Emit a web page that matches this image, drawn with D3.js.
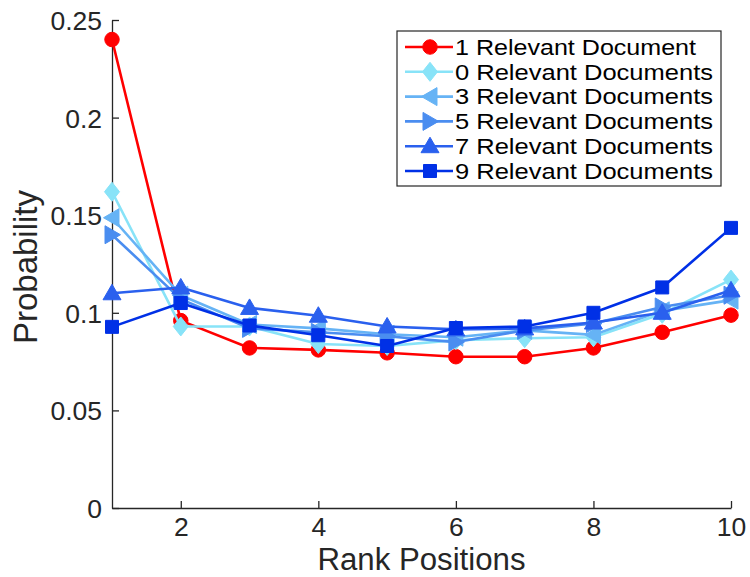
<!DOCTYPE html>
<html>
<head>
<meta charset="utf-8">
<script src="https://cdn.jsdelivr.net/npm/d3@7"></script>
<style>
  html, body { margin: 0; padding: 0; background: #fff; }
  svg { display: block; font-family: "Liberation Sans", Arial, Helvetica, sans-serif; }
</style>
</head>
<body>
<svg id="chart" width="750" height="577"></svg>
<script>
// Rank positions on the x axis
const ranks = [1, 2, 3, 4, 5, 6, 7, 8, 9, 10];

// Probability per rank position, one array per number of relevant documents
const rel1 = [0.240, 0.096, 0.082, 0.081, 0.0795, 0.0775, 0.0775, 0.082, 0.090, 0.0988];
const rel0 = [0.162, 0.093, 0.093, 0.0840, 0.0830, 0.0860, 0.0870, 0.0875, 0.0995, 0.117];
const rel3 = [0.1487, 0.109, 0.094, 0.092, 0.089, 0.0875, 0.091, 0.0887, 0.101, 0.1065];
const rel5 = [0.140, 0.107, 0.092, 0.090, 0.088, 0.0850, 0.091, 0.0945, 0.103, 0.109];
const rel7 = [0.110, 0.113, 0.1025, 0.0985, 0.0930, 0.0915, 0.092, 0.0950, 0.1000, 0.1115];
const rel9 = [0.0928, 0.105, 0.0935, 0.0885, 0.0830, 0.0922, 0.093, 0.1000, 0.1130, 0.1435];

const seriesNames = [
  "1 Relevant Document",
  "0 Relevant Documents",
  "3 Relevant Documents",
  "5 Relevant Documents",
  "7 Relevant Documents",
  "9 Relevant Documents"
];

const yTicks = [0, 0.05, 0.1, 0.15, 0.2, 0.25];
const xTicks = [2, 4, 6, 8, 10];

const series = [
  { name: seriesNames[0], values: rel1, color: "#ff0000", marker: "circle" },
  { name: seriesNames[1], values: rel0, color: "#88e3f8", marker: "diamond" },
  { name: seriesNames[2], values: rel3, color: "#66b3f5", marker: "left" },
  { name: seriesNames[3], values: rel5, color: "#4a8df0", marker: "right" },
  { name: seriesNames[4], values: rel7, color: "#2a60ee", marker: "up" },
  { name: seriesNames[5], values: rel9, color: "#0030e6", marker: "square" }
];

const svg = d3.select("#chart");
const margin = { left: 112, right: 19, top: 20, bottom: 69 };
const W = 750, H = 577;

const x = d3.scaleLinear().domain([1, 10]).range([margin.left, W - margin.right]);
const y = d3.scaleLinear().domain([0, 0.25]).range([H - margin.bottom, margin.top]);

// Marker shapes, drawn centred on (0,0)
function markerPath(kind) {
  switch (kind) {
    case "circle": return d3.symbol(d3.symbolCircle, 165)();
    case "diamond": return "M0,-9.5L7.5,0L0,9.5L-7.5,0Z";
    case "left": return "M-8.5,0L7,-9L7,9Z";
    case "right": return "M8.5,0L-7,-9L-7,9Z";
    case "up": return "M0,-9L9,6.5L-9,6.5Z";
    case "square": return "M-6.5,-6.5L6.5,-6.5L6.5,6.5L-6.5,6.5Z";
  }
}

// Axes (left and bottom only, ticks pointing inward)
const axisColor = "#262626";
const xAxis = d3.axisBottom(x).tickValues(xTicks).tickSizeInner(-7).tickSizeOuter(0).tickPadding(9)
  .tickFormat(d3.format("d"));
const yAxis = d3.axisLeft(y).tickValues(yTicks).tickSizeInner(-7).tickSizeOuter(0).tickPadding(10)
  .tickFormat(d => d === 0 ? "0" : String(d));

const gx = svg.append("g").attr("transform", `translate(0,${y(0)})`).call(xAxis);
const gy = svg.append("g").attr("transform", `translate(${x(1)},0)`).call(yAxis);

[gx, gy].forEach(g => {
  g.select(".domain").attr("stroke", axisColor).attr("stroke-width", 1.3);
  g.selectAll(".tick line").attr("stroke", axisColor).attr("stroke-width", 1.3);
  g.selectAll(".tick text").attr("fill", axisColor).style("font-size", "26.5px")
    .style("font-family", "'Liberation Sans', Arial, sans-serif");
});
gx.selectAll(".tick text").attr("dy", "0.71em");
gy.selectAll(".tick text").attr("dy", "0.36em");

// Axis titles (tall, slightly condensed lettering)
svg.append("text")
  .attr("x", (x(1) + x(10)) / 2).attr("y", 570)
  .attr("text-anchor", "middle").attr("fill", axisColor)
  .attr("textLength", 208).attr("lengthAdjust", "spacingAndGlyphs")
  .style("font-size", "31px")
  .text("Rank Positions");

svg.append("text")
  .attr("transform", `translate(37,267) rotate(-90)`)
  .attr("text-anchor", "middle").attr("fill", axisColor)
  .attr("textLength", 154).attr("lengthAdjust", "spacingAndGlyphs")
  .style("font-size", "34px")
  .text("Probability");

// Lines and markers
const line = d3.line().x((d, i) => x(ranks[i])).y(d => y(d));

series.forEach(s => {
  const g = svg.append("g");
  g.append("path")
    .attr("d", line(s.values))
    .attr("fill", "none")
    .attr("stroke", s.color)
    .attr("stroke-width", 2.6)
    .attr("stroke-linejoin", "round");
  g.selectAll("path.mk").data(s.values).enter().append("path")
    .attr("class", "mk")
    .attr("d", markerPath(s.marker))
    .attr("transform", (d, i) => `translate(${x(ranks[i])},${y(d)})`)
    .attr("fill", s.color)
    .attr("stroke", s.color)
    .attr("stroke-width", 1);
});

// Legend
const lg = svg.append("g").attr("transform", "translate(397,31)");
lg.append("rect")
  .attr("width", 324).attr("height", 155)
  .attr("fill", "#fff").attr("stroke", axisColor).attr("stroke-width", 1.2);

series.forEach((s, i) => {
  const ry = 16 + i * 24.8;
  lg.append("line")
    .attr("x1", 8).attr("x2", 56).attr("y1", ry).attr("y2", ry)
    .attr("stroke", s.color).attr("stroke-width", 2.6);
  lg.append("path")
    .attr("d", markerPath(s.marker))
    .attr("transform", `translate(33,${ry})`)
    .attr("fill", s.color).attr("stroke", s.color).attr("stroke-width", 1);
  lg.append("text")
    .attr("x", 58).attr("y", ry).attr("dy", "0.36em")
    .attr("fill", "#000")
    .attr("textLength", i === 0 ? 241 : 258).attr("lengthAdjust", "spacingAndGlyphs")
    .style("font-size", "21.5px")
    .text(s.name);
});
</script>
</body>
</html>
